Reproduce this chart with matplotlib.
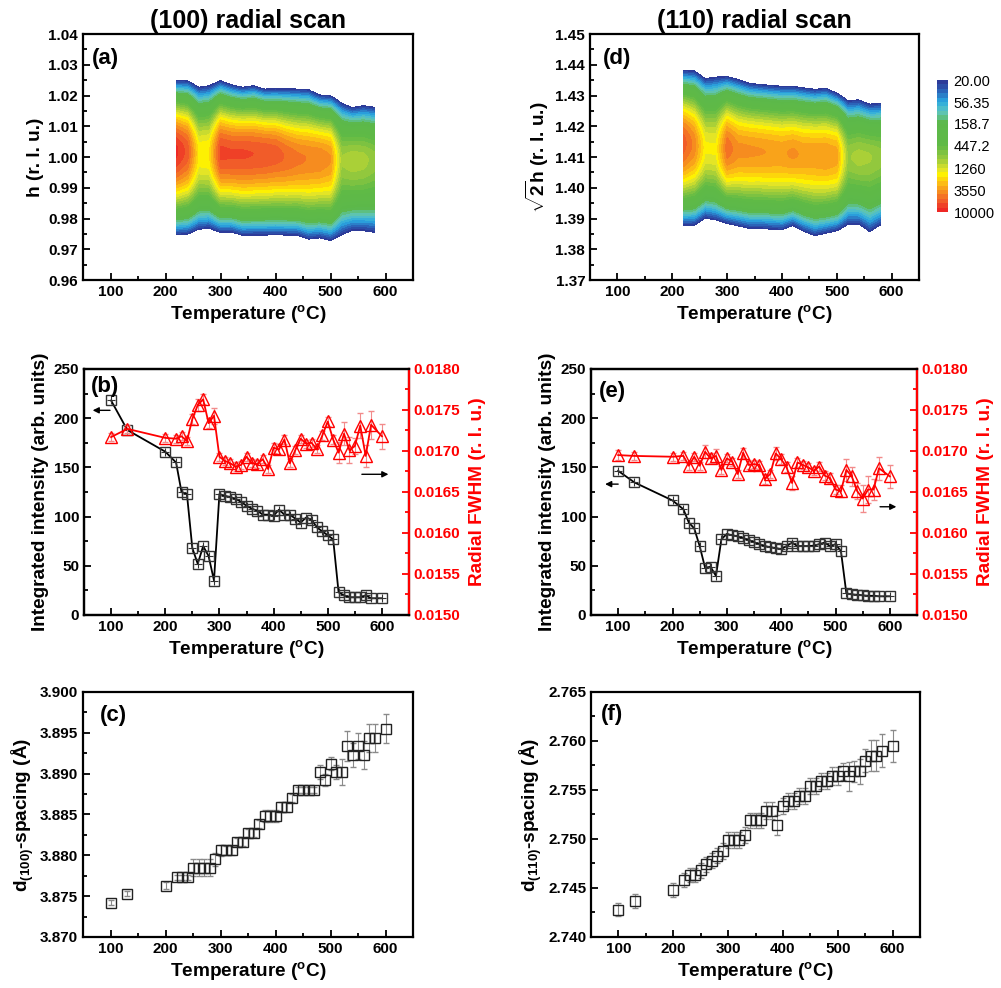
import numpy as np
import matplotlib
matplotlib.use('Agg')
import matplotlib.pyplot as plt
from matplotlib.colors import LinearSegmentedColormap
from matplotlib.ticker import MultipleLocator, FormatStrFormatter

plt.rcParams['font.family'] = ['Liberation Sans', 'DejaVu Sans']
plt.rcParams['font.weight'] = 'bold'
plt.rcParams['axes.labelweight'] = 'bold'
plt.rcParams['axes.titleweight'] = 'bold'
plt.rcParams['mathtext.fontset'] = 'custom'
plt.rcParams['mathtext.rm'] = 'Liberation Sans:bold'
plt.rcParams['mathtext.bf'] = 'Liberation Sans:bold'
plt.rcParams['mathtext.default'] = 'bf'

# temperatures of the line scans (degC)
temps = [100, 130, 200, 220, 230, 240, 250, 260, 270, 280, 290, 300, 310, 320, 330,
         340, 350, 360, 370, 380, 390, 400, 410, 420, 430, 440, 450, 460, 470, 480,
         490, 500, 510, 520, 530, 540, 550, 560, 570, 580, 600]

# (100) reflection
int_100 = [218, 188, 166, 155, 125, 123, 68, 52, 70, 60, 35, 123, 121, 120, 118,
           115, 111, 108, 106, 102, 102, 101, 107, 102, 102, 98, 94, 99, 97, 89,
           85, 81, 77, 23, 20, 18, 18, 18, 20, 17, 17]
fwhm_100 = [0.01717, 0.01727, 0.01716, 0.01715, 0.01718, 0.01712, 0.01739, 0.01756,
            0.01763, 0.01734, 0.01743, 0.01693, 0.01688, 0.01685, 0.01681, 0.01683,
            0.01693, 0.01685, 0.01684, 0.01690, 0.01678, 0.01704, 0.01702, 0.01714,
            0.01685, 0.01701, 0.01715, 0.01709, 0.01710, 0.01702, 0.01719, 0.01736,
            0.01714, 0.01698, 0.01721, 0.01701, 0.01706, 0.01731, 0.01694, 0.01732,
            0.01718]
fwhm_100_err = [5, 5, 5, 5, 5, 5, 6, 7, 6, 6, 10, 5, 5, 5, 5, 5, 5, 5, 5, 5, 5, 6, 6,
                6, 5, 5, 5, 5, 5, 5, 5, 6, 6, 13, 14, 16, 10, 15, 13, 17, 15]  # 1e-5
d_100 = [3.8742, 3.8753, 3.8763, 3.8773, 3.8773, 3.8773, 3.8785, 3.8785, 3.8785,
         3.8785, 3.8795, 3.8806, 3.8806, 3.8806, 3.8816, 3.8816, 3.8827, 3.8827,
         3.8838, 3.8848, 3.8848, 3.8848, 3.8859, 3.8859, 3.8870, 3.8880, 3.8880,
         3.8880, 3.8880, 3.8902, 3.8892, 3.8912, 3.8902, 3.8902, 3.8934, 3.8923,
         3.8934, 3.8923, 3.8944, 3.8944, 3.8955]
d_100_err = [3, 3, 4, 3, 3, 3, 10, 10, 10, 10, 8, 7, 6, 6, 5, 5, 5, 5, 5, 7, 7, 7, 6,
             6, 5, 4, 4, 4, 4, 8, 7, 8, 9, 16, 18, 15, 16, 17, 17, 17, 18]  # 1e-4

# (110) reflection
int_110 = [146.5, 134.7, 116.4, 107.5, 94, 88, 70, 48, 49, 39.7, 77, 82.4, 81, 80, 78,
           76.5, 74, 72, 70, 69, 68, 67, 70, 73.6, 70, 70, 70, 70.5, 72, 73.6,
           70, 72, 65, 22, 21, 20.5, 20, 19.5, 19.5, 19, 19]
fwhm_110 = [0.01695, 0.01694, 0.01693, 0.01694, 0.01682, 0.01693, 0.01682, 0.01699,
            0.01691, 0.01694, 0.01677, 0.01691, 0.01687, 0.01672, 0.01698, 0.01683,
            0.01684, 0.01683, 0.01666, 0.01672, 0.01697, 0.01690, 0.01680, 0.01661,
            0.01686, 0.01683, 0.01680, 0.01676, 0.01681, 0.01670, 0.01667, 0.01653,
            0.01651, 0.01677, 0.01669, 0.01651, 0.01642, 0.01653, 0.01653, 0.01679,
            0.01669]
fwhm_110_err = [6, 5, 5, 5, 5, 5, 5, 8, 6, 9, 5, 5, 5, 5, 6, 5, 5, 5, 6, 5, 8, 6, 6,
                9, 6, 5, 5, 5, 5, 5, 6, 6, 7, 13, 12, 10, 16, 16, 13, 14, 14]  # 1e-5
d_110 = [2.7428, 2.7437, 2.7448, 2.7458, 2.7463, 2.7463, 2.7468, 2.7474, 2.7478,
         2.7483, 2.7488, 2.7499, 2.7499, 2.7499, 2.7504, 2.7519, 2.7519, 2.7519,
         2.7529, 2.7529, 2.7514, 2.7534, 2.7539, 2.7539, 2.7544, 2.7544, 2.7554,
         2.7554, 2.7559, 2.7559, 2.7564, 2.7564, 2.7569, 2.7564, 2.7569, 2.7569,
         2.7580, 2.7585, 2.7585, 2.7590, 2.7595]
d_110_err = [7, 7, 7, 7, 7, 7, 8, 8, 8, 8, 8, 8, 8, 8, 8, 8, 8, 8, 9, 9, 10, 8, 8, 8,
             8, 8, 8, 8, 8, 8, 9, 9, 9, 15, 11, 13, 12, 16, 16, 17, 16]  # 1e-4

# radial-scan maps: peak height, centre and the 20-count edges per temperature
map_temps = [220, 240, 260, 280, 300, 320, 340, 360, 380, 400, 420, 440, 460, 480,
             500, 520, 540, 560, 580]
a_amp = [8500, 6000, 1800, 1900, 7000, 6800, 6800, 6600, 6400, 6000, 5200, 4600,
         4300, 4200, 3600, 850, 950, 900, 750]
a_cen = [1.002, 1.002, 1.001, 1.001, 1.0015, 1.001, 1.001, 1.001, 1.001, 1.001,
         1.000, 0.9995, 0.9995, 0.9995, 0.9995, 0.999, 0.999, 0.999, 0.999]
a_top = [1.0249, 1.0248, 1.0227, 1.0232, 1.0248, 1.0235, 1.0227, 1.0232, 1.0221,
         1.0222, 1.0222, 1.0221, 1.0219, 1.0202, 1.0199, 1.0175, 1.0161, 1.0167,
         1.0162]
a_bot = [0.9747, 0.9749, 0.9765, 0.9768, 0.9755, 0.9756, 0.9745, 0.9746, 0.9746,
         0.9747, 0.9746, 0.9745, 0.9733, 0.9737, 0.9728, 0.9747, 0.9761, 0.9760,
         0.9755]
d_amp = [6000, 4000, 1600, 1600, 5000, 3800, 3700, 3600, 3500, 3400, 3700, 3400,
         3400, 3500, 3200, 800, 900, 850, 750]
d_cen = [1.4145, 1.4140, 1.4130, 1.4125, 1.4130, 1.4122, 1.4120, 1.4118, 1.4115,
         1.4112, 1.4112, 1.4108, 1.4108, 1.4105, 1.4105, 1.4100, 1.4100, 1.4100,
         1.4100]
d_top = [1.4382, 1.4380, 1.4355, 1.4360, 1.4362, 1.4352, 1.4340, 1.4336, 1.4333,
         1.4330, 1.4330, 1.4325, 1.4320, 1.4324, 1.4308, 1.4283, 1.4286, 1.4272,
         1.4275]
d_bot = [1.3877, 1.3878, 1.3901, 1.3895, 1.3884, 1.3876, 1.3868, 1.3868, 1.3865,
         1.3863, 1.3877, 1.3858, 1.3844, 1.3852, 1.3860, 1.3881, 1.3882, 1.3857,
         1.3879]

cbar_ticks = [20, 56.35, 158.7, 447.2, 1260, 3550, 10000]
cbar_labels = ['20.00', '56.35', '158.7', '447.2', '1260', '3550', '10000']

cmap = LinearSegmentedColormap.from_list('origin_rainbow', [
    (0.00, '#2e3192'), (0.08, '#2b62b8'), (0.16, '#2aa8e0'), (0.24, '#5ec6c0'),
    (0.32, '#5cb84a'), (0.50, '#5fba46'), (0.60, '#9ccb3b'), (0.68, '#e2e428'),
    (0.72, '#fff200'), (0.78, '#fcbf14'), (0.84, '#f7941d'), (0.92, '#f15a29'),
    (1.00, '#ed1c24')])
levels = np.linspace(np.log10(20), 4, 31)

T_LABEL = 'Temperature ($^{\\mathbf{o}}$C)'


def style_axis(ax, ymaj, ymin, yfmt):
    ax.set_xlim(50, 650)
    ax.xaxis.set_major_locator(MultipleLocator(100))
    ax.xaxis.set_minor_locator(MultipleLocator(50))
    ax.yaxis.set_major_locator(MultipleLocator(ymaj))
    ax.yaxis.set_minor_locator(MultipleLocator(ymin))
    ax.yaxis.set_major_formatter(FormatStrFormatter(yfmt))
    ax.tick_params(which='both', direction='in', top=False, right=False, width=1.3,
                   labelsize=11)
    ax.tick_params(which='major', length=5)
    ax.tick_params(which='minor', length=3)
    for s in ax.spines.values():
        s.set_linewidth(1.6)
    ax.set_xlabel(T_LABEL, fontsize=13.7, labelpad=3)


def draw_map(ax, amp, cen, top, bot, ylim):
    h = np.linspace(ylim[0], ylim[1], 600)
    T = np.array(map_temps)
    amp = np.array(amp); cen = np.array(cen)
    top = np.array(top); bot = np.array(bot)
    H = h[:, None]
    half = np.where(H >= cen, top - cen, cen - bot)
    u = np.abs(H - cen) / half
    low = np.log10(20)
    Z = low + (np.log10(amp) - low) * (1 - u ** 1.9)
    return ax.contourf(T, h, Z, levels=levels, cmap=cmap)


def draw_intensity(ax, inten, fwhm, ferr, arrows):
    ax.plot(temps, inten, color='k', lw=1.3, marker='s', ms=6.5, mfc='none',
            mec='#333333', mew=1.0, zorder=3)
    ax.plot(temps, inten, ls='none', marker='+', ms=6, color='#333333', mew=0.8,
            zorder=4)
    ax.set_ylim(0, 250)
    ax2 = ax.twinx()
    ax2.errorbar(temps, fwhm, yerr=np.array(ferr) * 1e-5, color='red', lw=1.3,
                 marker='^', ms=9, mfc='none', mec='red', mew=1.0, ecolor='#f28b8b',
                 elinewidth=0.8, capsize=2.5)
    ax2.set_ylim(0.015, 0.018)
    ax2.yaxis.set_major_locator(MultipleLocator(0.0005))
    ax2.yaxis.set_minor_locator(MultipleLocator(0.00025))
    ax2.yaxis.set_major_formatter(FormatStrFormatter('%.4f'))
    ax2.tick_params(which='both', direction='in', colors='red', width=1.3,
                    labelsize=11)
    ax2.tick_params(which='major', length=5)
    ax2.tick_params(which='minor', length=3)
    ax2.spines['right'].set_color('red')
    for s in ax2.spines.values():
        s.set_linewidth(1.6)
    ax2.set_ylabel('Radial FWHM (r. l. u.)', color='red', fontsize=13.7, labelpad=6)
    for (x0, x1, y) in arrows:
        ax.annotate('', xy=(x1, y), xytext=(x0, y),
                    arrowprops=dict(arrowstyle='-|>', color='k', lw=1.0,
                                    mutation_scale=9, shrinkA=0, shrinkB=0))
    return ax2


def draw_spacing(ax, d, derr):
    ax.errorbar(temps, d, yerr=np.array(derr) * 1e-4, ls='none', marker='s', ms=7,
                mfc='none', mec='#222222', mew=1.0, ecolor='#8a8a8a',
                elinewidth=0.8, capsize=2.5)


fig = plt.figure(figsize=(10.01, 9.88), dpi=100)
W, Hf = 1001, 988


def place(l, r, t, b):
    return fig.add_axes([l / W, 1 - b / Hf, (r - l) / W, (b - t) / Hf])


ax_a = place(83, 413, 34, 280)
ax_d = place(590, 919, 34, 280)
ax_b = place(84, 409, 369, 615)
ax_e = place(591, 917, 369, 615)
ax_c = place(83, 413, 692, 937)
ax_f = place(591, 920, 692, 937)

# (a) and (d) maps
draw_map(ax_a, a_amp, a_cen, a_top, a_bot, (0.96, 1.04))
ax_a.set_ylim(0.96, 1.04)
style_axis(ax_a, 0.01, 0.005, '%.2f')
ax_a.set_ylabel('h (r. l. u.)', fontsize=13.7, labelpad=3)
ax_a.set_title('(100) radial scan', fontsize=18, pad=4)

cs = draw_map(ax_d, d_amp, d_cen, d_top, d_bot, (1.37, 1.45))
ax_d.set_ylim(1.37, 1.45)
style_axis(ax_d, 0.01, 0.005, '%.2f')
ax_d.set_ylabel('$\\sqrt{\\mathbf{2}}$h (r. l. u.)', fontsize=13.7, labelpad=3)
ax_d.set_title('(110) radial scan', fontsize=18, pad=4)

cax = fig.add_axes([937 / W, 1 - 212 / Hf, 11 / W, 132 / Hf])
cb = fig.colorbar(cs, cax=cax, ticks=np.log10(cbar_ticks))
cb.ax.set_yticklabels(cbar_labels, fontweight='normal', fontsize=10.5)
cb.ax.invert_yaxis()
cb.ax.tick_params(length=0, pad=4)
cb.outline.set_visible(False)

# (b) and (e) intensity / FWHM
draw_intensity(ax_b, int_100, fwhm_100, fwhm_100_err, [(98, 66, 208), (563, 612, 143)])
style_axis(ax_b, 50, 25, '%d')
ax_b.set_ylabel('Integrated intensity (arb. units)', fontsize=13.7, labelpad=3)

draw_intensity(ax_e, int_110, fwhm_110, fwhm_110_err, [(100, 76, 133), (582, 612, 110)])
style_axis(ax_e, 50, 25, '%d')
ax_e.set_ylabel('Integrated intensity (arb. units)', fontsize=13.7, labelpad=3)

# (c) and (f) d-spacing
draw_spacing(ax_c, d_100, d_100_err)
ax_c.set_ylim(3.870, 3.900)
style_axis(ax_c, 0.005, 0.0025, '%.3f')
ax_c.set_ylabel('d$_{\\mathbf{(100)}}$-spacing ($\\mathbf{\\AA}$)', fontsize=13.7, labelpad=3)

draw_spacing(ax_f, d_110, d_110_err)
ax_f.set_ylim(2.740, 2.765)
style_axis(ax_f, 0.005, 0.0025, '%.3f')
ax_f.set_ylabel('d$_{\\mathbf{(110)}}$-spacing ($\\mathbf{\\AA}$)', fontsize=13.7, labelpad=3)

for ax, lab, x, y in [(ax_a, '(a)', 0.027, 0.945), (ax_b, '(b)', 0.02, 0.97),
                      (ax_c, '(c)', 0.05, 0.945), (ax_d, '(d)', 0.04, 0.945),
                      (ax_e, '(e)', 0.025, 0.95), (ax_f, '(f)', 0.03, 0.95)]:
    ax.text(x, y, lab, transform=ax.transAxes, ha='left', va='top', fontsize=16,
            fontweight='bold', zorder=10)

fig.savefig('out.png', dpi=100)
